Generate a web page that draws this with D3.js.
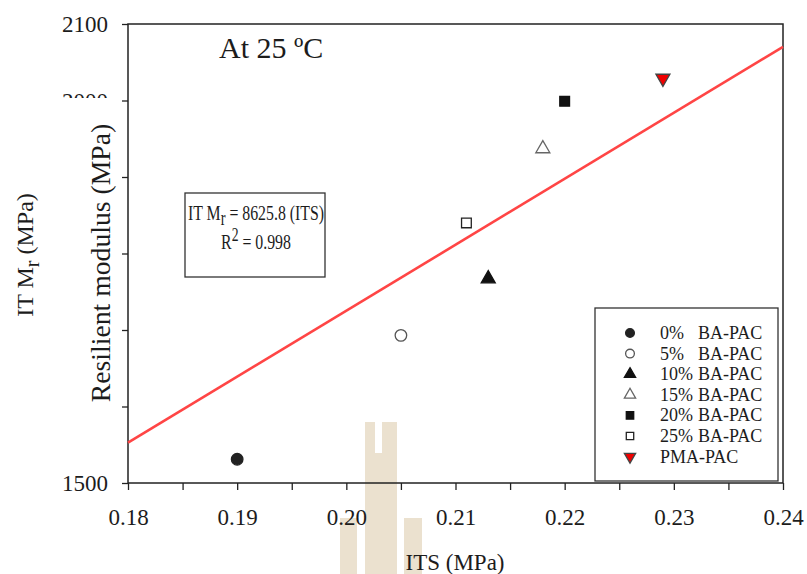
<!DOCTYPE html>
<html><head><meta charset="utf-8">
<script src="https://cdn.jsdelivr.net/npm/d3@7"></script>
<style>body{margin:0;background:#fff}svg{display:block}text{font-family:"Liberation Serif","Times New Roman",serif;fill:#1c1c1c}</style>
</head><body><svg id="c" width="807" height="574"></svg>
<script>
const categories = ["0%  BA-PAC","5%  BA-PAC","10% BA-PAC","15% BA-PAC","20% BA-PAC","25% BA-PAC","PMA-PAC"];
const legendPct = ["0%","5%","10%","15%","20%","25%",""];
const itsValues = [0.190, 0.205, 0.213, 0.218, 0.220, 0.211, 0.229];
const mrValues  = [1531, 1693, 1767, 1937, 1999, 1840, 2029];
const symbols   = ["circleF","circleO","triF","triO","sqF","sqO","triDownRed"];
const xTicks = [0.18,0.19,0.20,0.21,0.22,0.23,0.24];
const xMinor = [0.185,0.195,0.205,0.215,0.225,0.235];
const yTicks = [1500,1600,1700,1800,1900,2000,2100];
const yLabeled = [1500,2000,2100];
const slope = 8625.8;
const fitDomain = [0.18, 0.24];

const svg = d3.select("#c");
const x = d3.scaleLinear().domain([0.18,0.24]).range([128,783]);
const y = d3.scaleLinear().domain([1500,2100]).range([483,24]);

// watermark
const wm = svg.append("g").attr("fill","#ebe1cf");
wm.append("path").attr("d","M365,422 H375 V453 H382 V422 H397 V574 H365 Z");
wm.append("rect").attr("x",340).attr("y",518).attr("width",17).attr("height",56);
wm.append("rect").attr("x",404).attr("y",518).attr("width",18).attr("height",56);

// frame
svg.append("rect").attr("x",128).attr("y",24).attr("width",655).attr("height",459)
  .attr("fill","none").attr("stroke","#222").attr("stroke-width",1.5);

// x axis
const xAxis = svg.append("g").attr("transform","translate(0,483)")
  .call(d3.axisBottom(x).tickValues(xTicks).tickSize(7).tickFormat(d3.format(".2f")));
xAxis.select(".domain").remove();
xAxis.selectAll(".tick line").attr("stroke","#222").attr("stroke-width",1.3);
xAxis.selectAll(".tick text").attr("font-size",23).attr("dy",0).attr("y",42)
  .style("font-family","Liberation Serif").attr("fill","#1c1c1c");
svg.append("g").attr("transform","translate(0,483)")
  .call(d3.axisBottom(x).tickValues(xMinor).tickSize(7).tickFormat(""))
  .call(g=>{g.select(".domain").remove();g.selectAll("line").attr("stroke","#222").attr("stroke-width",1.3);});

// y axis
const yAxis = svg.append("g").attr("transform","translate(128,0)")
  .call(d3.axisLeft(y).tickValues(yTicks).tickSize(6).tickFormat(d=> yLabeled.includes(d)? d : ""));
yAxis.select(".domain").remove();
yAxis.selectAll(".tick line").attr("stroke","#222").attr("stroke-width",1.3);
yAxis.selectAll(".tick text").attr("font-size",23).attr("x",-20).attr("dy","0.34em")
  .style("font-family","Liberation Serif").attr("fill","#1c1c1c");

// white cover behind rotated label (as in reference)
svg.append("rect").attr("x",56).attr("y",98).attr("width",62).attr("height",374).attr("fill","#fff");

svg.append("text").attr("transform","translate(110,263) rotate(-90)")
  .attr("text-anchor","middle").attr("font-size",27.7).text("Resilient modulus (MPa)");
const t2 = svg.append("text").attr("transform","translate(33,255) rotate(-90)")
  .attr("text-anchor","middle").attr("font-size",24);
t2.append("tspan").text("IT M");
t2.append("tspan").attr("font-size",20).attr("dy",6).text("r");
t2.append("tspan").attr("dy",-6).text(" (MPa)");

svg.append("text").attr("x",455).attr("y",570).attr("text-anchor","middle").attr("font-size",23).text("ITS (MPa)");
svg.append("text").attr("x",219).attr("y",58).attr("font-size",30).text("At 25 ºC");

// fit line
svg.append("line").attr("x1",x(fitDomain[0])).attr("y1",y(slope*fitDomain[0]))
  .attr("x2",x(fitDomain[1])).attr("y2",y(slope*fitDomain[1]))
  .attr("stroke","#ff4545").attr("stroke-width",2.6);

// equation box
svg.append("rect").attr("x",185).attr("y",193).attr("width",140).attr("height",84)
  .attr("fill","#fff").attr("stroke","#333").attr("stroke-width",1.3);
const eqG = svg.append("g").attr("transform","translate(256,0) scale(0.72,1)");
const eq = eqG.append("text").attr("x",0).attr("y",220).attr("text-anchor","middle").attr("font-size",22);
eq.append("tspan").text("IT M");
eq.append("tspan").attr("font-size",20).attr("dy",5).text("r");
eq.append("tspan").attr("dy",-5).text(" = 8625.8 (ITS)");
const r2 = eqG.append("text").attr("x",0).attr("y",249).attr("text-anchor","middle").attr("font-size",22);
r2.append("tspan").text("R");
r2.append("tspan").attr("font-size",19).attr("dy",-8).text("2");
r2.append("tspan").attr("dy",8).text(" = 0.998");

function drawSym(g, type, cx, cy, s){
  const sty = {circleF:[d3.symbolCircle,"#222","#222"],circleO:[d3.symbolCircle,"#fff","#555"],
    triF:[d3.symbolTriangle,"#111","#111"],triO:[d3.symbolTriangle,"#fff","#666"],
    sqF:[d3.symbolSquare,"#111","#111"],sqO:[d3.symbolSquare,"#fff","#222"],
    triDownRed:[d3.symbolTriangle,"#f00000","#444"]}[type];
  return g.append("path").attr("d", d3.symbol().type(sty[0]).size(s)())
    .attr("fill",sty[1]).attr("stroke",sty[2]).attr("stroke-width",1.3)
    .attr("transform",`translate(${cx},${cy})` + (type==="triDownRed"?" rotate(180)":""));
}

// points
const pts = svg.append("g");
itsValues.forEach((v,i)=>{
  const s = symbols[i].startsWith("circle")?105: symbols[i].startsWith("sq")?95:85;
  drawSym(pts, symbols[i], x(v), y(mrValues[i]), s);
});

// legend
svg.append("rect").attr("x",595).attr("y",308).attr("width",183).attr("height",173)
  .attr("fill","#fff").attr("stroke","#333").attr("stroke-width",1.3);
const lg = svg.append("g");
categories.forEach((c,i)=>{
  const yy = 333 + i*20.6;
  const s = symbols[i].startsWith("circle")?60:55;
  drawSym(lg, symbols[i], 630, yy, s);
  if(legendPct[i]){
    lg.append("text").attr("x",660).attr("y",yy+6).attr("font-size",18).text(legendPct[i]);
    lg.append("text").attr("x",698).attr("y",yy+6).attr("font-size",18).text("BA-PAC");
  } else {
    lg.append("text").attr("x",660).attr("y",yy+6).attr("font-size",18).text(c);
  }
});
</script></body></html>
